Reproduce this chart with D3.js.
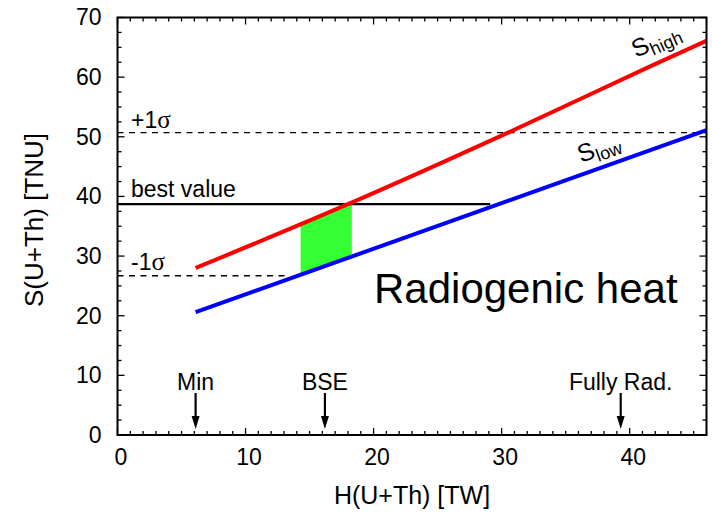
<!DOCTYPE html>
<html>
<head>
<meta charset="utf-8">
<script src="https://cdn.jsdelivr.net/npm/d3@7"></script>
<style>
  html, body { margin: 0; padding: 0; background: #fff; }
  svg { display: block; font-family: "Liberation Sans", Arial, Helvetica, sans-serif; }
</style>
</head>
<body>
<svg id="chart" width="712" height="513"></svg>
<script>
// Heat production H(U+Th) in TW vs. geoneutrino signal S(U+Th) in TNU
const highH = [6.1, 18.0, 30.5, 41.6, 46];
const highS = [28.0, 38.7, 50.7, 61.8, 66.1];
const lowH = [6.1, 46];
const lowS = [20.6, 51.1];

const bestValue = 38.7;
const bestEndH = 29.1;
const plusSigma = 50.7;
const minusSigma = 26.7;
const minusSigmaEndH = 13.3;

// allowed band of H between the -1σ and best-value constraints
const bandH = [14.3, 18.3];

const markerNames = ["Min", "BSE", "Fully Rad."];
const markerH = [6.1, 16.2, 39.3];

const xTicks = [0, 10, 20, 30, 40];
const yTicks = [0, 10, 20, 30, 40, 50, 60, 70];

const svg = d3.select("#chart");
const plotL = 117.5, plotR = 706.5, plotT = 17.5, plotB = 435;

const x = d3.scaleLinear().domain([0, 46]).range([plotL, plotR]);
const y = d3.scaleLinear().domain([0, 70]).range([plotB, plotT]);

// piecewise-linear lookup along a series
const interp = (hs, ss, h) => d3.scaleLinear().domain(hs).range(ss)(h);

// green band: bounded by S_low below and min(S_high, best value) above
const bandSteps = d3.range(bandH[0], bandH[1] + 1e-9, (bandH[1] - bandH[0]) / 40);
const bandTop = bandSteps.map(h => [h, Math.min(bestValue, interp(highH, highS, h))]);
const bandBottom = bandSteps.slice().reverse().map(h => [h, interp(lowH, lowS, h)]);
const bandPoly = bandTop.concat(bandBottom);

svg.append("path")
  .attr("d", "M" + bandPoly.map(p => [x(p[0]), y(p[1])].join(",")).join("L") + "Z")
  .attr("fill", "#33ff33");

// reference levels
const dash = "6,5.5";
svg.append("line")
  .attr("x1", x(0)).attr("x2", x(46)).attr("y1", y(plusSigma)).attr("y2", y(plusSigma))
  .attr("stroke", "#000").attr("stroke-width", 1.3).attr("stroke-dasharray", dash);
svg.append("line")
  .attr("x1", x(0)).attr("x2", x(minusSigmaEndH)).attr("y1", y(minusSigma)).attr("y2", y(minusSigma))
  .attr("stroke", "#000").attr("stroke-width", 1.3).attr("stroke-dasharray", dash);
svg.append("line")
  .attr("x1", x(0)).attr("x2", x(bestEndH)).attr("y1", y(bestValue)).attr("y2", y(bestValue))
  .attr("stroke", "#000").attr("stroke-width", 2.2);

// model lines
const line = d3.line().x(d => x(d[0])).y(d => y(d[1])).curve(d3.curveMonotoneX);
svg.append("path").datum(highH.map((h, i) => [h, highS[i]]))
  .attr("d", line).attr("fill", "none").attr("stroke", "#ff0000").attr("stroke-width", 4);
svg.append("path").datum(lowH.map((h, i) => [h, lowS[i]]))
  .attr("d", line).attr("fill", "none").attr("stroke", "#0000ff").attr("stroke-width", 4);

// axes: ticks pointing inward on all four sides
const minorX = d3.range(0, 47, 1).filter(v => v % 10 !== 0);
const minorY = d3.range(0, 70.1, 2.5).filter(v => v % 10 !== 0);
const tickG = svg.append("g").attr("stroke", "#000").attr("stroke-width", 1.3);
const majL = 7, minL = 4;
xTicks.forEach(v => {
  tickG.append("line").attr("x1", x(v)).attr("x2", x(v)).attr("y1", plotB).attr("y2", plotB - majL);
  tickG.append("line").attr("x1", x(v)).attr("x2", x(v)).attr("y1", plotT).attr("y2", plotT + majL);
});
minorX.forEach(v => {
  tickG.append("line").attr("x1", x(v)).attr("x2", x(v)).attr("y1", plotB).attr("y2", plotB - minL);
  tickG.append("line").attr("x1", x(v)).attr("x2", x(v)).attr("y1", plotT).attr("y2", plotT + minL);
});
yTicks.forEach(v => {
  tickG.append("line").attr("y1", y(v)).attr("y2", y(v)).attr("x1", plotL).attr("x2", plotL + majL);
  tickG.append("line").attr("y1", y(v)).attr("y2", y(v)).attr("x1", plotR).attr("x2", plotR - majL);
});
minorY.forEach(v => {
  tickG.append("line").attr("y1", y(v)).attr("y2", y(v)).attr("x1", plotL).attr("x2", plotL + minL);
  tickG.append("line").attr("y1", y(v)).attr("y2", y(v)).attr("x1", plotR).attr("x2", plotR - minL);
});

svg.append("rect")
  .attr("x", plotL).attr("y", plotT).attr("width", plotR - plotL).attr("height", plotB - plotT)
  .attr("fill", "none").attr("stroke", "#000").attr("stroke-width", 2);

// tick labels
const xAxis = d3.axisBottom(x).tickValues(xTicks).tickSize(0).tickPadding(14).tickFormat(d3.format("d"));
const gx = svg.append("g").attr("transform", `translate(3,${plotB})`).call(xAxis);
gx.select(".domain").remove();
gx.selectAll("text").attr("font-size", 23).attr("font-family", "Liberation Sans, Arial, sans-serif").attr("fill", "#000");

const yAxis = d3.axisLeft(y).tickValues(yTicks).tickSize(0).tickPadding(16).tickFormat(d3.format("d"));
const gy = svg.append("g").attr("transform", `translate(${plotL},0)`).call(yAxis);
gy.select(".domain").remove();
gy.selectAll("text").attr("font-size", 23).attr("font-family", "Liberation Sans, Arial, sans-serif").attr("fill", "#000");

// axis titles
svg.append("text").attr("x", (plotL + plotR) / 2).attr("y", 504)
  .attr("text-anchor", "middle").attr("font-size", 25).text("H(U+Th) [TW]");
svg.append("text").attr("transform", "translate(43,220) rotate(-90)")
  .attr("text-anchor", "middle").attr("font-size", 26).text("S(U+Th) [TNU]");

// level labels
const p1 = svg.append("text").attr("x", 131).attr("y", 128).attr("font-size", 23);
p1.append("tspan").text("+1");
p1.append("tspan").attr("font-family", "Liberation Serif, Times New Roman, serif").attr("font-size", 25).text("σ");
svg.append("text").attr("x", 131).attr("y", 197).attr("font-size", 23).text("best value");
const m1 = svg.append("text").attr("x", 131).attr("y", 270).attr("font-size", 23);
m1.append("tspan").text("-1");
m1.append("tspan").attr("font-family", "Liberation Serif, Times New Roman, serif").attr("font-size", 25).text("σ");

// line labels
const hi = svg.append("text").attr("transform", "translate(636,58) rotate(-24)").attr("font-size", 25);
hi.append("tspan").text("S");
hi.append("tspan").attr("font-size", 18).attr("dy", 5).text("high");
const lo = svg.append("text").attr("transform", "translate(581,163) rotate(-20)").attr("font-size", 25);
lo.append("tspan").text("S");
lo.append("tspan").attr("font-size", 18).attr("dy", 5).text("low");

svg.append("text").attr("x", 374).attr("y", 303).attr("font-size", 42).text("Radiogenic heat");

// model markers with arrows
const mk = svg.append("g");
markerH.forEach((h, i) => {
  const cx = x(h);
  mk.append("text").attr("x", cx).attr("y", 390).attr("text-anchor", "middle")
    .attr("font-size", 23).text(markerNames[i]);
  mk.append("line").attr("x1", cx).attr("x2", cx).attr("y1", 393).attr("y2", 419)
    .attr("stroke", "#000").attr("stroke-width", 2.2);
  mk.append("path").attr("d", `M${cx - 4},416L${cx + 4},416L${cx},429Z`).attr("fill", "#000");
});
</script>
</body>
</html>
